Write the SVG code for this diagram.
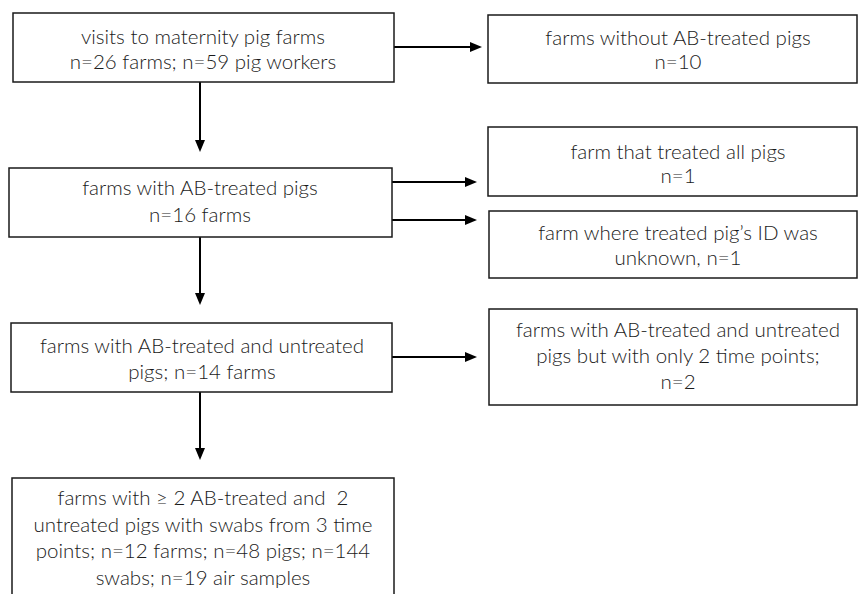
<svg xmlns="http://www.w3.org/2000/svg" width="858" height="594" viewBox="0 0 858 594">
<style>
.box{fill:#fff;stroke:#1a1a1a;stroke-width:1.5}
.t{font-family:Lato,"Open Sans","Liberation Sans",sans-serif;font-weight:300;font-size:20.5px;fill:#1a1a1a;text-anchor:middle;white-space:pre}
.c{stroke:#000;stroke-width:2;fill:none;marker-end:url(#ah)}
</style>
<defs>
<marker id="ah" markerWidth="6" markerHeight="5" refX="0" refY="2.5" orient="auto" markerUnits="strokeWidth">
<path d="M0,0 L6,2.5 L0,5 Z" fill="#000"/>
</marker>
</defs>
<rect width="858" height="594" fill="#fff"/>
<g id="connectors">
<line class="c" x1="394" y1="47" x2="470" y2="47"/>
<line class="c" x1="200" y1="82" x2="200" y2="140"/>
<line class="c" x1="392" y1="182" x2="465" y2="182"/>
<line class="c" x1="392" y1="220" x2="465" y2="220"/>
<line class="c" x1="200" y1="237" x2="200" y2="293"/>
<line class="c" x1="392" y1="357" x2="465" y2="357"/>
<line class="c" x1="200" y1="392" x2="200" y2="448"/>
</g>
<g id="n1">
<rect class="box" x="13" y="13" width="381" height="69"/>
<text class="t" x="203" y="44">visits to maternity pig farms</text>
<text class="t" x="203" y="69">n=26 farms; n=59 pig workers</text>
</g>
<g id="n2">
<rect class="box" x="488" y="15" width="369" height="68"/>
<text class="t" x="678" y="45">farms without AB-treated pigs</text>
<text class="t" x="678" y="69">n=10</text>
</g>
<g id="n3">
<rect class="box" x="488" y="127" width="369" height="69"/>
<text class="t" x="678" y="159">farm that treated all pigs</text>
<text class="t" x="678" y="183">n=1</text>
</g>
<g id="n4">
<rect class="box" x="9" y="168" width="383" height="69"/>
<text class="t" x="200" y="195">farms with AB-treated pigs</text>
<text class="t" x="200" y="222">n=16 farms</text>
</g>
<g id="n5">
<rect class="box" x="489" y="211" width="368" height="67"/>
<text class="t" x="678" y="240">farm where treated pig’s ID was</text>
<text class="t" x="678" y="265">unknown, n=1</text>
</g>
<g id="n6">
<rect class="box" x="11" y="323" width="381" height="69"/>
<text class="t" x="202" y="353">farms with AB-treated and untreated</text>
<text class="t" x="202" y="379">pigs; n=14 farms</text>
</g>
<g id="n7">
<rect class="box" x="489" y="309" width="368" height="96"/>
<text class="t" x="678" y="337">farms with AB-treated and untreated</text>
<text class="t" x="678" y="363">pigs but with only 2 time points;</text>
<text class="t" x="678" y="389">n=2</text>
</g>
<g id="n8">
<rect class="box" x="12" y="478" width="382" height="130"/>
<text class="t" x="203" y="505" xml:space="preserve">farms with ≥ 2 AB-treated and  2</text>
<text class="t" x="203" y="532">untreated pigs with swabs from 3 time</text>
<text class="t" x="203" y="558">points; n=12 farms; n=48 pigs; n=144</text>
<text class="t" x="203" y="585">swabs; n=19 air samples</text>
</g>
</svg>
